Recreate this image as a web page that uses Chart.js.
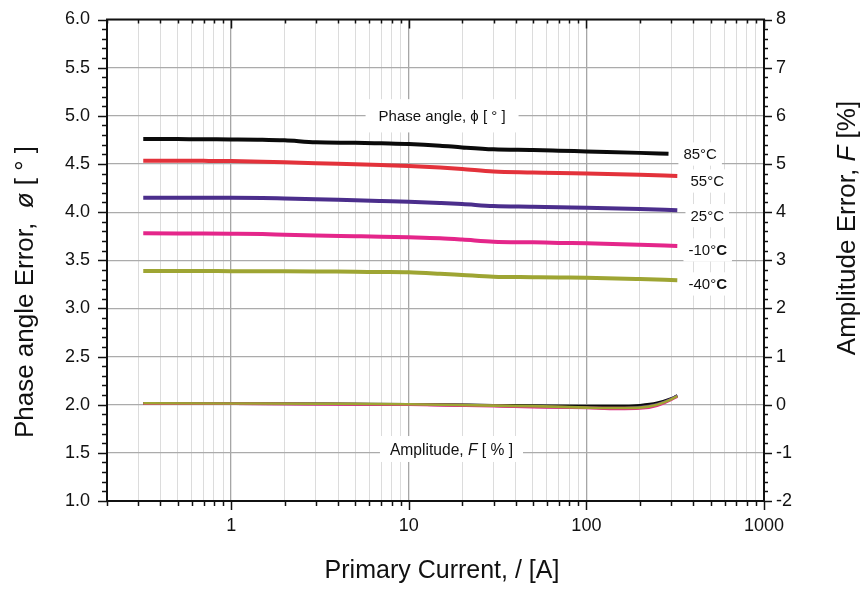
<!DOCTYPE html>
<html>
<head>
<meta charset="utf-8">
<script src="https://cdn.jsdelivr.net/npm/chart.js@4.4.1/dist/chart.umd.min.js"></script>
<style>
  html, body { margin: 0; padding: 0; background: #fff; }
  #wrap { width: 864px; height: 591px; position: relative; }
</style>
</head>
<body>
<div id="wrap"><canvas id="chart"></canvas></div>
<script>
// Primary current (A) at which the phase-angle error was sampled
const PHASE_CURRENT    = [0.32, 0.5, 0.7, 1, 1.5, 2, 3, 5, 7, 10, 15, 20, 30, 50, 70, 100, 200, 325];
const PHASE_CURRENT_85 = [0.32, 0.5, 0.7, 1, 1.5, 2, 3, 5, 7, 10, 15, 20, 30, 50, 70, 100, 200, 290];

// Phase-angle error (degrees) per temperature
const PHASE_85  = [4.760, 4.758, 4.756, 4.755, 4.752, 4.745, 4.725, 4.720, 4.714, 4.707, 4.690, 4.672, 4.652, 4.645, 4.638, 4.630, 4.615, 4.605];
const PHASE_55  = [4.534, 4.533, 4.532, 4.530, 4.524, 4.518, 4.507, 4.497, 4.489, 4.479, 4.462, 4.447, 4.422, 4.412, 4.405, 4.400, 4.387, 4.375];
const PHASE_25  = [4.150, 4.149, 4.148, 4.148, 4.146, 4.141, 4.134, 4.122, 4.115, 4.108, 4.095, 4.084, 4.063, 4.056, 4.050, 4.046, 4.032, 4.019];
const PHASE_M10 = [3.780, 3.779, 3.778, 3.776, 3.772, 3.765, 3.757, 3.750, 3.745, 3.738, 3.728, 3.715, 3.693, 3.686, 3.680, 3.676, 3.661, 3.648];
const PHASE_M40 = [3.388, 3.388, 3.388, 3.387, 3.387, 3.386, 3.384, 3.380, 3.378, 3.375, 3.360, 3.347, 3.329, 3.324, 3.321, 3.319, 3.305, 3.292];

// Primary current (A) at which the amplitude error was sampled
const AMP_CURRENT = [0.32, 1, 3, 10, 30, 50, 100, 150, 200, 250, 300, 325];

// Amplitude error (%) per temperature
const AMP_85  = [0.030, 0.025, 0.020, 0.010, -0.010, -0.020, -0.030, -0.030, -0.010, 0.040, 0.130, 0.190];
const AMP_55  = [0.020, 0.020, 0.015, 0.005, -0.020, -0.040, -0.060, -0.070, -0.060, 0.000, 0.110, 0.180];
const AMP_25  = [0.020, 0.020, 0.015, 0.005, -0.020, -0.040, -0.060, -0.070, -0.050, 0.010, 0.120, 0.190];
const AMP_M10 = [0.020, 0.020, 0.010, 0.000, -0.030, -0.050, -0.070, -0.090, -0.080, -0.020, 0.100, 0.170];
const AMP_M40 = [0.030, 0.025, 0.020, 0.010, -0.020, -0.030, -0.060, -0.070, -0.060, 0.000, 0.110, 0.180];

const TEMP_LABELS = ['85°C', '55°C', '25°C', '-10°C', '-40°C'];
const TEMP_COLORS = ['#0b0b0b', '#e3323b', '#4b2e8c', '#e4268a', '#9ea533'];

// Labelled decades on the current axis
const X_MAJOR = [1, 10, 100, 1000];

const FONT = '"Liberation Sans", Arial, Helvetica, sans-serif';

function pts(xs, ys) { return xs.map((x, i) => ({ x, y: ys[i] })); }

const phaseSets = [
  [PHASE_CURRENT_85, PHASE_85], [PHASE_CURRENT, PHASE_55], [PHASE_CURRENT, PHASE_25],
  [PHASE_CURRENT, PHASE_M10], [PHASE_CURRENT, PHASE_M40]
];
const ampSets = [AMP_85, AMP_55, AMP_25, AMP_M10, AMP_M40];

const datasets = [];
phaseSets.forEach(([xs, ys], i) => {
  datasets.push({
    label: 'Phase ' + TEMP_LABELS[i], data: pts(xs, ys), yAxisID: 'y',
    borderColor: TEMP_COLORS[i], borderWidth: 4, pointRadius: 0,
    cubicInterpolationMode: 'monotone', order: 10 + i
  });
});
// olive trace ends up on top, black underneath
const ampOrder = [4, 3, 2, 1, 0];
ampSets.forEach((ys, i) => {
  datasets.push({
    label: 'Amplitude ' + TEMP_LABELS[i], data: pts(AMP_CURRENT, ys), yAxisID: 'y1',
    borderColor: TEMP_COLORS[i], borderWidth: 2.6, pointRadius: 0,
    cubicInterpolationMode: 'monotone', order: ampOrder[i]
  });
});

// Draw a sequence of differently styled text runs centred on (x, y)
function drawRuns(ctx, runs, x, y, rot) {
  ctx.save();
  ctx.translate(x, y);
  ctx.rotate(rot || 0);
  let w = 0;
  runs.forEach(r => { ctx.font = r.font; w += ctx.measureText(r.text).width; });
  let cx = -w / 2;
  ctx.textAlign = 'left';
  ctx.textBaseline = 'alphabetic';
  ctx.fillStyle = '#111';
  runs.forEach(r => {
    ctx.font = r.font;
    ctx.fillText(r.text, cx, r.dy || 0);
    cx += ctx.measureText(r.text).width;
  });
  ctx.restore();
  return w;
}

// Text label on a white box, box sized around the text
function boxedLabel(ctx, runs, cx, cy, size, padX, padY) {
  let w = 0;
  runs.forEach(r => { ctx.font = r.font; w += ctx.measureText(r.text).width; });
  const h = size * 1.15 + padY * 2;
  ctx.save();
  ctx.fillStyle = '#fff';
  ctx.fillRect(cx - w / 2 - padX, cy - h / 2, w + padX * 2, h);
  ctx.restore();
  drawRuns(ctx, runs, cx, cy + size * 0.36, 0);
}

const annotations = {
  id: 'annotations',
  afterDatasetsDraw(chart) {
    const { ctx, scales: { x, y } } = chart;
    const f = (s, style) => (style ? style + ' ' : '') + s + 'px ' + FONT;

    // curve group captions
    boxedLabel(ctx, [
      { text: 'Phase angle, ϕ [ ', font: f(15) },
      { text: '°', font: f(15) },
      { text: ' ]', font: f(15) }
    ], x.getPixelForValue(15.4), y.getPixelForValue(5.0), 15, 13, 8);

    boxedLabel(ctx, [
      { text: 'Amplitude, ', font: f(15.6) },
      { text: 'F', font: f(15.6, 'italic') },
      { text: ' [ % ]', font: f(15.6) }
    ], x.getPixelForValue(17.4), y.getPixelForValue(1.54), 15.6, 10, 4);

    // temperature tags at the right end of the phase curves
    const tagPos = [[437, 4.603], [479, 4.323], [479, 3.963], [482, 3.607], [482, 3.254]];
    TEMP_LABELS.forEach((t, i) => {
      const num = t.replace('°C', '');
      const boldC = t.startsWith('-');
      boxedLabel(ctx, [
        { text: num, font: f(15) },
        { text: '°', font: f(15) },
        { text: 'C', font: f(15, boldC ? 'bold' : '') }
      ], x.getPixelForValue(tagPos[i][0]), y.getPixelForValue(tagPos[i][1]), 15, 5, 3);
    });
  }
};

const frame = {
  id: 'frame',
  afterDraw(chart) {
    const { ctx, chartArea: a, scales: { x, y, y1 } } = chart;
    const seg = (x0, y0, x1, y1_) => { ctx.beginPath(); ctx.moveTo(x0, y0); ctx.lineTo(x1, y1_); ctx.stroke(); };
    ctx.save();
    ctx.strokeStyle = '#111';
    ctx.lineWidth = 1.5;
    // current axis: outward ticks below, inward ticks along the top edge
    x.ticks.forEach(t => {
      const px = Math.round(x.getPixelForValue(t.value)) + 0.5;
      const major = X_MAJOR.includes(t.value);
      seg(px, a.bottom, px, a.bottom + (major ? 9 : 5));
      seg(px, a.top, px, a.top + (major ? 9 : 4));
    });
    // phase axis: minor every 0.1, major every 0.5
    for (let i = 0; i <= 50; i++) {
      const py = Math.round(y.getPixelForValue(1 + i * 0.1)) + 0.5;
      const major = i % 5 === 0;
      seg(a.left - (major ? 9 : 5), py, a.left, py);
    }
    // amplitude axis: minor every 0.2, major every 1
    for (let i = 0; i <= 50; i++) {
      const py = Math.round(y1.getPixelForValue(-2 + i * 0.2)) + 0.5;
      const major = i % 5 === 0;
      seg(a.right, py, a.right + (major ? 8 : 4), py);
    }
    ctx.lineWidth = 2;
    seg(a.left - 1, a.top, a.right + 1, a.top);
    ctx.restore();

    // axis titles
    drawRuns(ctx, [
      { text: 'Phase angle Error,  ', font: '26px ' + FONT },
      { text: 'ø', font: 'italic 26px ' + FONT },
      { text: ' [ ° ]', font: '26px ' + FONT }
    ], 33, 292, -Math.PI / 2);
    drawRuns(ctx, [
      { text: 'Amplitude Error, ', font: '26px ' + FONT },
      { text: 'F', font: 'italic 26px ' + FONT },
      { text: ' [%]', font: '26px ' + FONT }
    ], 855, 228, -Math.PI / 2);
    drawRuns(ctx, [
      { text: 'Primary Current, / [A]', font: '25px ' + FONT }
    ], 442, 578, 0);
  }
};

// fixed axis sizes so the plot frame lands where the layout expects it
function fixVertical(width) {
  return scale => { scale.width = width; scale.paddingTop = 0; scale.paddingBottom = 0; };
}

new Chart(document.getElementById('chart'), {
  type: 'line',
  data: { datasets },
  options: {
    responsive: true,
    maintainAspectRatio: false,
    animation: false,
    events: [],
    layout: { padding: { top: 19.5, left: 0, right: 0, bottom: 0 } },
    plugins: { legend: { display: false }, tooltip: { enabled: false } },
    scales: {
      x: {
        type: 'logarithmic', min: 0.2, max: 1000, position: 'bottom',
        afterBuildTicks(scale) {
          const t = [];
          [0.1, 1, 10, 100].forEach(d => {
            for (let m = 1; m <= 9; m++) {
              const v = +(m * d).toPrecision(3);
              if (v >= 0.2 && v <= 1000) t.push({ value: v });
            }
          });
          t.push({ value: 1000 });
          scale.ticks = t;
        },
        afterFit(scale) { scale.height = 90; scale.paddingLeft = 0; scale.paddingRight = 0; },
        ticks: {
          autoSkip: false, maxRotation: 0, padding: 14,
          color: '#111', font: { family: FONT, size: 18 },
          callback: v => (X_MAJOR.includes(v) ? String(v) : '')
        },
        grid: {
          drawTicks: false,
          color: c => (X_MAJOR.includes(c.tick.value) ? '#a6a6a6' : '#dcdcdc'),
          lineWidth: c => (X_MAJOR.includes(c.tick.value) ? 1.3 : 1)
        },
        border: { color: '#111', width: 2 }
      },
      y: {
        type: 'linear', position: 'left', min: 1, max: 6,
        afterFit: fixVertical(107),
        ticks: {
          stepSize: 0.5, padding: 17, color: '#111',
          font: { family: FONT, size: 18 },
          callback: v => v.toFixed(1)
        },
        grid: { drawTicks: false, color: '#ababab', lineWidth: 1.2 },
        border: { color: '#111', width: 2 }
      },
      y1: {
        type: 'linear', position: 'right', min: -2, max: 8,
        afterFit: fixVertical(100),
        ticks: {
          stepSize: 1, padding: 12, color: '#111',
          font: { family: FONT, size: 18 },
          callback: v => String(v)
        },
        grid: { display: false, drawTicks: false },
        border: { color: '#111', width: 2 }
      }
    }
  },
  plugins: [annotations, frame]
});
</script>
</body>
</html>
